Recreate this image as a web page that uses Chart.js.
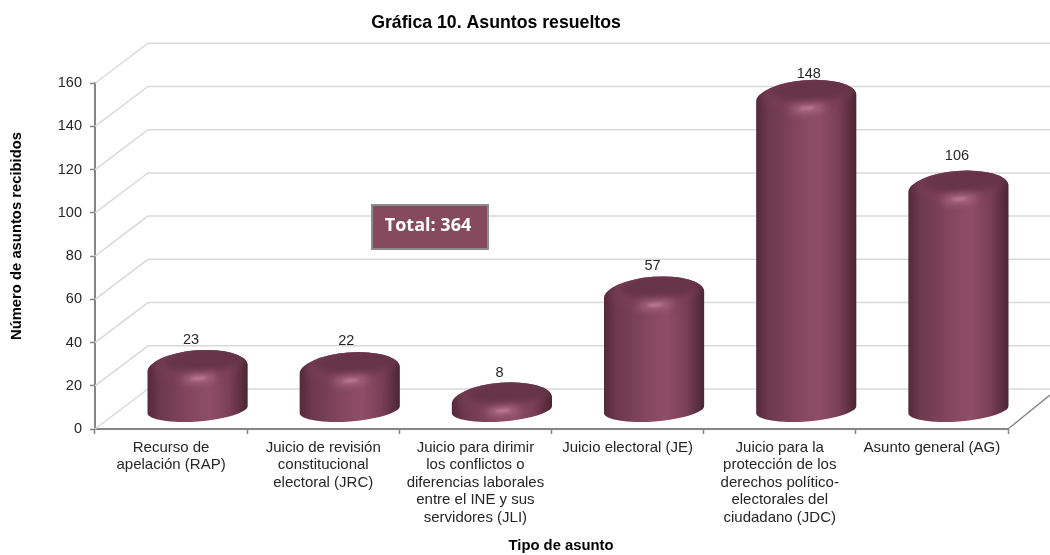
<!DOCTYPE html>
<html>
<head>
<meta charset="utf-8">
<title>Asuntos resueltos</title>
<script src="https://cdn.jsdelivr.net/npm/chart.js@4"></script>
<style>
  html, body { margin: 0; padding: 0; background: #fff; }
  canvas { display: block; }
</style>
</head>
<body>
<canvas id="myChart" width="1050" height="555"></canvas>
<script>
var categories = [
    ["Recurso de", "apelación (RAP)"],
    ["Juicio de revisión", "constitucional", "electoral (JRC)"],
    ["Juicio para dirimir", "los conflictos o", "diferencias laborales", "entre el INE y sus", "servidores (JLI)"],
    ["Juicio electoral (JE)"],
    ["Juicio para la", "protección de los", "derechos político-", "electorales del", "ciudadano (JDC)"],
    ["Asunto general (AG)"]
];
var resueltos = [23, 22, 8, 57, 148, 106];
var yTicks = [0, 20, 40, 60, 80, 100, 120, 140, 160];
var chartTitle = "Gráfica 10. Asuntos resueltos";
var xTitle = "Tipo de asunto";
var yTitle = "Número de asuntos recibidos";
var totalText = "Total: 364";

var FONT = '"Liberation Sans", Arial, sans-serif';
var DEPTH_X = 53, DEPTH_Y = 40; // 3d depth of the box
var BAR_X = 26.5, BAR_Y = 19;   // cylinders stand mid-depth
var TILT = -0.075;              // ellipses lean a bit
var labelLift = [20, 21, 20, 21, 16, 25];  // hand nudged, same as the picture
var labelShift = [-3, 0, 1, 2, 6, 2];

// back wall + side wall lines, follows the y scale
var wallPlugin = {
    id: 'wall',
    beforeDatasetsDraw: function(chart) {
        var ctx = chart.ctx, area = chart.chartArea, y = chart.scales.y;
        ctx.save();
        ctx.strokeStyle = '#d9d9d9';
        ctx.lineWidth = 1.5;
        y.ticks.forEach(function(t) {
            var py = y.getPixelForValue(t.value);
            ctx.beginPath();
            ctx.moveTo(area.left, py);
            ctx.lineTo(area.left + DEPTH_X, py - DEPTH_Y);
            ctx.lineTo(chart.width, py - DEPTH_Y);
            ctx.stroke();
        });
        ctx.strokeStyle = '#868686';
        ctx.beginPath();
        ctx.moveTo(area.right, area.bottom);
        ctx.lineTo(chart.width, area.bottom - 34);
        ctx.stroke();
        ctx.restore();
    }
};

function drawCylinder(ctx, cx, top, base, rx) {
    var ry = 12;
    ctx.save();
    ctx.beginPath();
    ctx.ellipse(cx, base, rx, ry, TILT, 0, Math.PI);
    ctx.ellipse(cx, top + 8, rx, 18, TILT, Math.PI, Math.PI * 2);
    ctx.closePath();

    var side = ctx.createLinearGradient(cx - rx, 0, cx + rx, 0);
    side.addColorStop(0, '#54293a');
    side.addColorStop(0.12, '#6d384c');
    side.addColorStop(0.45, '#854860');
    side.addColorStop(0.62, '#8f4d66');
    side.addColorStop(0.82, '#7a3f55');
    side.addColorStop(1, '#4b2533');
    ctx.fillStyle = side;
    ctx.fill();
    ctx.clip();

    // bevel band round the lid, see-through so the dark edges stay
    ctx.filter = 'blur(4px)';
    ctx.globalAlpha = 0.55;
    ctx.fillStyle = '#7a4056';
    ctx.beginPath();
    ctx.ellipse(cx, top + 3, rx - 6, ry + 6, TILT, 0, Math.PI * 2);
    ctx.fill();
    ctx.globalAlpha = 1;

    // dark lid
    ctx.filter = 'blur(3px)';
    ctx.fillStyle = '#673447';
    ctx.beginPath();
    ctx.ellipse(cx + 8, top - 1, rx - 8, ry, TILT, 0, Math.PI * 2);
    ctx.fill();

    // highlight on the front of the rim
    ctx.filter = 'blur(4px)';
    ctx.fillStyle = 'rgba(215,140,165,0.8)';
    ctx.beginPath();
    ctx.ellipse(cx + 1, top + 18, rx * 0.36, 3, TILT, 0, Math.PI * 2);
    ctx.fill();
    ctx.filter = 'blur(1.5px)';
    ctx.fillStyle = 'rgba(228,165,185,0.55)';
    ctx.beginPath();
    ctx.ellipse(cx + 1, top + 18, rx * 0.16, 1.2, TILT, 0, Math.PI * 2);
    ctx.fill();
    ctx.restore();
}

var cylinderPlugin = {
    id: 'cylinder',
    beforeDatasetDraw: function(chart, args) {
        var ctx = chart.ctx;
        args.meta.data.forEach(function(bar) {
            var p = bar.getProps(['x', 'y', 'base', 'width'], true);
            drawCylinder(ctx, p.x + BAR_X, p.y - BAR_Y, p.base - BAR_Y, p.width / 2);
        });
        return false;
    },
    afterDatasetsDraw: function(chart) {
        var ctx = chart.ctx;
        var meta = chart.getDatasetMeta(0);
        ctx.save();
        ctx.fillStyle = '#262626';
        ctx.font = '14.5px ' + FONT;
        ctx.textAlign = 'center';
        ctx.textBaseline = 'middle';
        meta.data.forEach(function(bar, i) {
            ctx.fillText(resueltos[i], bar.x + 23 + labelShift[i], bar.y - BAR_Y - labelLift[i]);
        });
        ctx.restore();
    }
};

// axis titles sit off centre in the original, and the total box
var notesPlugin = {
    id: 'notes',
    afterLayout: function(chart) {
        chart.titleBlock.left = 0;
        chart.titleBlock.right = 992;
    },
    afterDraw: function(chart) {
        var ctx = chart.ctx;
        ctx.save();
        ctx.textAlign = 'center';
        ctx.textBaseline = 'middle';
        ctx.fillStyle = '#000';
        ctx.font = 'bold 14.8px ' + FONT;
        ctx.fillText(xTitle, 561, 546);
        ctx.save();
        ctx.translate(17, 236);
        ctx.rotate(-Math.PI / 2);
        ctx.fillText(yTitle, 0, 0);
        ctx.restore();

        ctx.fillStyle = '#864a5f';
        ctx.strokeStyle = '#8c8c8c';
        ctx.lineWidth = 2;
        ctx.fillRect(372, 205, 116, 44);
        ctx.strokeRect(372, 205, 116, 44);
        ctx.fillStyle = '#fff';
        ctx.font = 'bold 18px "Open Sans", sans-serif';
        ctx.fillText(totalText, 428, 226);
        ctx.restore();
    }
};

new Chart("myChart", {
    type: "bar",
    data: {
        labels: categories,
        datasets: [{
            data: resueltos,
            backgroundColor: '#864a5f',
            categoryPercentage: 1,
            barPercentage: 0.66
        }]
    },
    options: {
        responsive: false,
        animation: false,
        layout: { padding: { left: 0, right: 42, top: 0, bottom: 0 } },
        plugins: {
            legend: { display: false },
            tooltip: { enabled: false },
            title: {
                display: true,
                text: chartTitle,
                color: '#000',
                font: { family: FONT, size: 17.7, weight: 'bold', lineHeight: 1.2 },
                padding: { top: 12, bottom: 50 }
            }
        },
        scales: {
            x: {
                afterFit: function(scale) { scale.height = 126; },
                border: { color: '#868686', width: 2 },
                grid: { drawOnChartArea: false, color: '#868686', tickLength: 5, tickWidth: 1.5 },
                ticks: {
                    color: '#262626',
                    font: { family: FONT, size: 15, lineHeight: 1.167 },
                    padding: 5,
                    maxRotation: 0,
                    autoSkip: false
                }
            },
            y: {
                min: 0,
                max: 160,
                afterFit: function(scale) { scale.width = 95; },
                afterBuildTicks: function(scale) {
                    scale.ticks = yTicks.map(function(v) { return { value: v }; });
                },
                border: { color: '#868686', width: 2 },
                grid: { drawOnChartArea: false, color: '#868686', tickLength: 5, tickWidth: 1.5 },
                ticks: {
                    color: '#262626',
                    font: { family: FONT, size: 14.5 },
                    padding: 8
                }
            }
        }
    },
    plugins: [wallPlugin, cylinderPlugin, notesPlugin]
});
</script>
</body>
</html>
